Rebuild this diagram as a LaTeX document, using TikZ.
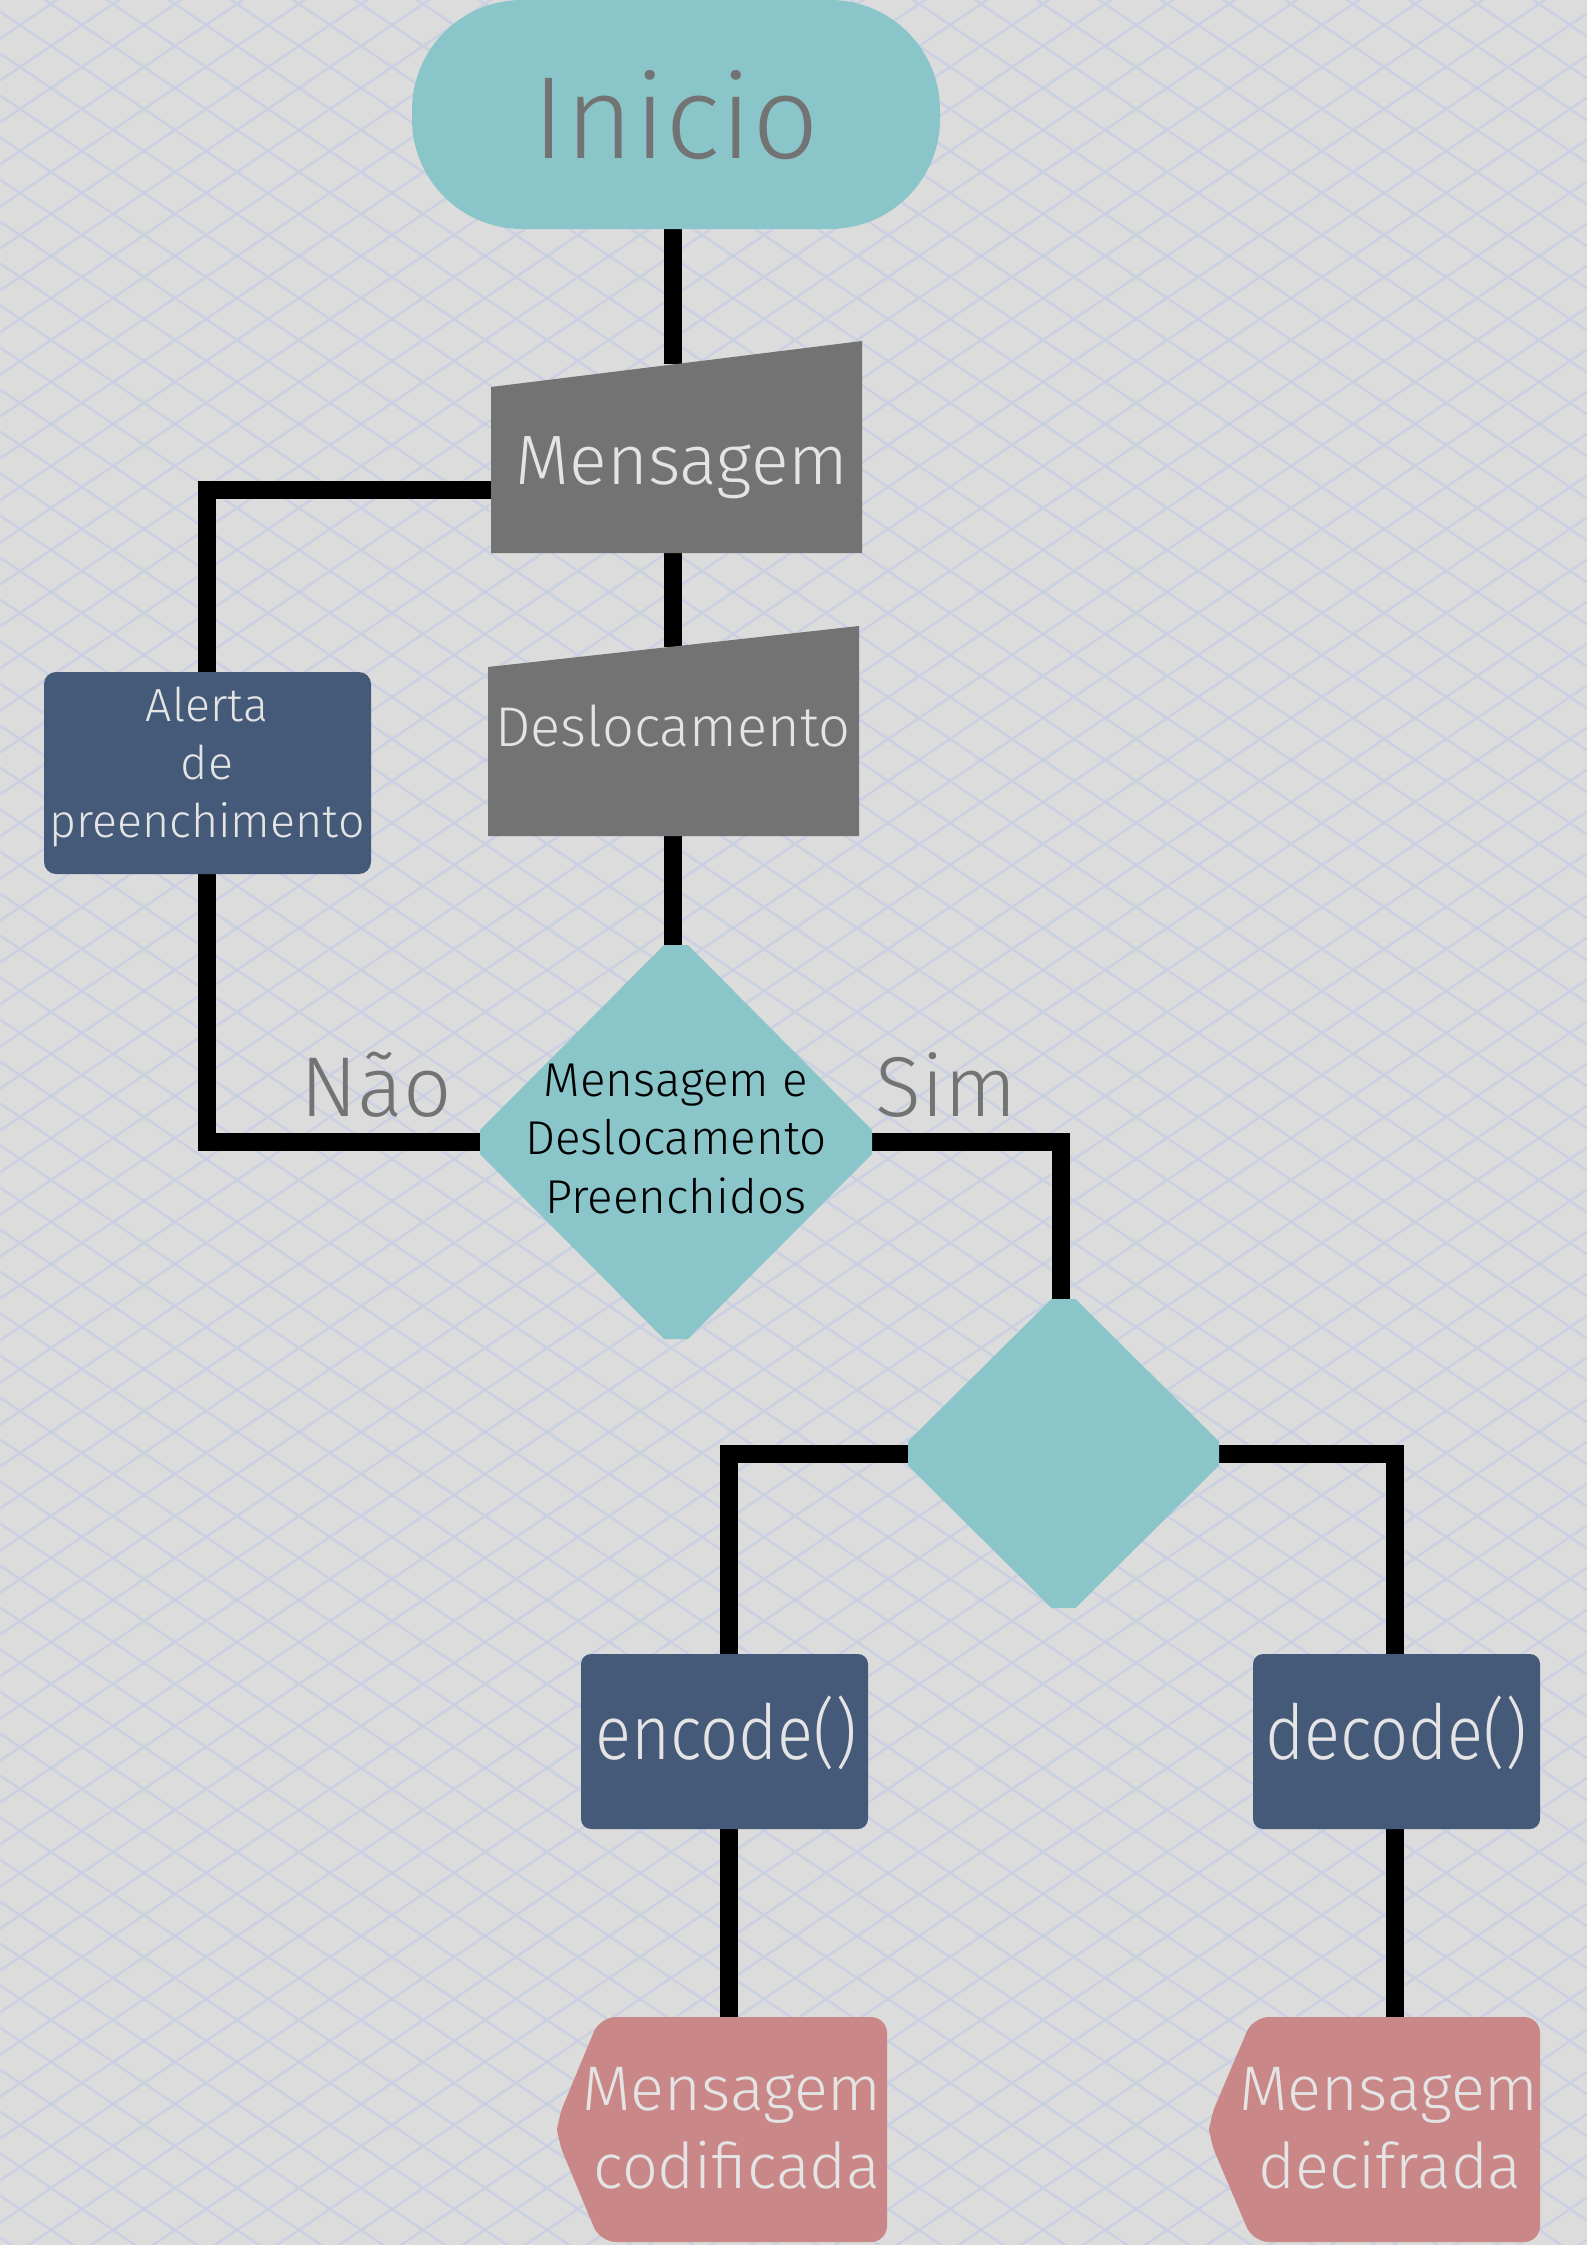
\documentclass[tikz,border=0pt]{standalone}
\usepackage{fontspec}
\setmainfont{Fira Sans Light}
\usetikzlibrary{calc}
\definecolor{bgc}{RGB}{220,220,220}
\definecolor{patc}{RGB}{203,208,226}
\definecolor{tealc}{RGB}{138,198,201}
\definecolor{grayc}{RGB}{115,115,115}
\definecolor{navyc}{RGB}{69,90,121}
\definecolor{pinkc}{RGB}{201,135,135}
\definecolor{lighttxt}{RGB}{228,228,228}
\tikzset{
  pat/.style={patc, line width=2.4pt},
  conn/.style={black, line width=18pt, line join=miter},
  txt/.style={inner sep=0pt, anchor=base},
  box/.style={inner sep=0pt, outer sep=0pt},
  fs/.style={font=\fontsize{#1}{#1}\selectfont}
}
\begin{document}
\begin{tikzpicture}[x=1pt,y=-1pt]
\useasboundingbox (0,0) rectangle (1587,2245);
\fill[bgc] (0,0) rectangle (1587,2245);
\begin{scope}
\clip (0,0) rectangle (1587,2245);
\foreach \a in {-27,...,54} {
  \draw[pat] (0,{11.45+42*\a}) -- (1587,{11.45+42*\a+1075});
}
\foreach \b in {-2,...,80} {
  \draw[pat] (0,{38.55+42*\b}) -- (1587,{38.55+42*\b-1075});
}
\end{scope}

% ---------- named shapes (bounding boxes) ----------
\node[box, minimum width=528pt, minimum height=229pt] (inicio) at (676,114.5) {};
\node[box, minimum width=371pt, minimum height=212pt] (msg) at (676.5,447) {};
\node[box, minimum width=371pt, minimum height=210pt] (des) at (673.5,731) {};
\node[box, minimum width=392pt, minimum height=394pt] (d1) at (676,1142) {};
\node[box, minimum width=327pt, minimum height=202pt] (alerta) at (207.5,773) {};
\node[box, minimum width=311pt, minimum height=309pt] (d2) at (1063.5,1453.5) {};
\node[box, minimum width=287pt, minimum height=175pt] (enc) at (724.5,1741.5) {};
\node[box, minimum width=287pt, minimum height=175pt] (dec) at (1396.5,1741.5) {};
\node[box, minimum width=330pt, minimum height=225pt] (cod) at (722,2129.5) {};
\node[box, minimum width=331pt, minimum height=225pt] (dcf) at (1374.5,2129.5) {};

% ---------- connector end points ----------
\coordinate (c1) at (673,364);
\coordinate (c2a) at (673,553);
\coordinate (c2b) at (673,647);
\coordinate (c3a) at (673,836);
\coordinate (c3b) at (673,946);
\coordinate (c4a) at (492,490);
\coordinate (c4b) at (207,672);
\coordinate (c5a) at (207,874);
\coordinate (c5b) at (481,1142);
\coordinate (c6a) at (871,1142);
\coordinate (c6b) at (1061,1300);
\coordinate (c7a) at (909,1454);
\coordinate (c7b) at (729,1654);
\coordinate (c8a) at (1218,1454);
\coordinate (c8b) at (1395,1654);
\coordinate (c9a) at (729,1829);
\coordinate (c9b) at (729,2017);
\coordinate (c10a) at (1395,1829);
\coordinate (c10b) at (1395,2017);

% ---------- connectors ----------
\draw[conn] (inicio.south -| c1) -- (c1);
\draw[conn] (c2a) -- (c2b);
\draw[conn] (c3a) -- (c3b);
\draw[conn] (c4a) -| (c4b);
\draw[conn] (c5a) |- (c5b);
\draw[conn] (c6a) -| (c6b);
\draw[conn] (c7a) -| (c7b);
\draw[conn] (c8a) -| (c8b);
\draw[conn] (c9a) -- (c9b);
\draw[conn] (c10a) -- (c10b);

% ---------- shapes ----------
\fill[tealc, rounded corners=110pt] (inicio.north west) rectangle (inicio.south east);
\fill[grayc] (msg.south west) -- (msg.south east) -- (msg.north east) -- ($(msg.north west)+(0,46)$) -- cycle;
\fill[grayc] (des.south west) -- (des.south east) -- (des.north east) -- ($(des.north west)+(0,41)$) -- cycle;
\fill[tealc] ($(d1.north)+(-12,0)$) -- ($(d1.north)+(12,0)$) -- ($(d1.east)+(0,-12)$) -- ($(d1.east)+(0,12)$)
  -- ($(d1.south)+(12,0)$) -- ($(d1.south)+(-12,0)$) -- ($(d1.west)+(0,12)$) -- ($(d1.west)+(0,-12)$) -- cycle;
\fill[tealc] ($(d2.north)+(-12,0)$) -- ($(d2.north)+(12,0)$) -- ($(d2.east)+(0,-12)$) -- ($(d2.east)+(0,12)$)
  -- ($(d2.south)+(12,0)$) -- ($(d2.south)+(-12,0)$) -- ($(d2.west)+(0,12)$) -- ($(d2.west)+(0,-12)$) -- cycle;
\fill[navyc, rounded corners=12pt] (alerta.north west) rectangle (alerta.south east);
\fill[navyc, rounded corners=10pt] (enc.north west) rectangle (enc.south east);
\fill[navyc, rounded corners=10pt] (dec.north west) rectangle (dec.south east);
\fill[pinkc, rounded corners=16pt] ($(cod.north west)+(43,0)$) -- (cod.north east) -- (cod.south east)
  -- ($(cod.south west)+(43,0)$) -- ($(cod.west)+(0,9)$) -- ($(cod.west)+(0,-9)$) -- cycle;
\fill[pinkc, rounded corners=16pt] ($(dcf.north west)+(44,0)$) -- (dcf.north east) -- (dcf.south east)
  -- ($(dcf.south west)+(44,0)$) -- ($(dcf.west)+(0,9)$) -- ($(dcf.west)+(0,-9)$) -- cycle;

% ---------- texts ----------
\node[txt, fs=117, text=grayc] (tinicio) at (676,159) {Inicio};
\node[txt, fs=70, text=lighttxt] (tmsg) at (682,484) {Mensagem};
\node[txt, fs=56, text=lighttxt] (tdes) at (673,746) {Deslocamento};
\node[txt, fs=47.5, text=black] (td1a) at (676,1096) {Mensagem e};
\node[txt, fs=47.5, text=black] (td1b) at (676,1154) {Deslocamento};
\node[txt, fs=47.5, text=black] (td1c) at (676,1213) {Preenchidos};
\node[txt, fs=46.5, text=lighttxt] (tal1) at (207,721) {Alerta};
\node[txt, fs=46.5, text=lighttxt] (tal2) at (207,779) {de};
\node[txt, fs=46.5, text=lighttxt] (tal3) at (207,837) {preenchimento};
\node[txt, fs=85, text=grayc] (tnao) at (376,1116) {Não};
\node[txt, fs=85, text=grayc] (tsim) at (946,1116) {Sim};
\node[txt, fs=76, text=lighttxt] (tenc) at (726,1759) {\scalebox{0.88}[1]{encode()}};
\node[txt, fs=76, text=lighttxt] (tdec) at (1396,1759) {\scalebox{0.88}[1]{decode()}};
\node[txt, fs=63, text=lighttxt] (tcod1) at (732,2110) {Mensagem};
\node[txt, fs=63, text=lighttxt] (tcod2) at (737,2188) {codificada};
\node[txt, fs=63, text=lighttxt] (tdcf1) at (1389,2110) {Mensagem};
\node[txt, fs=63, text=lighttxt] (tdcf2) at (1390,2188) {decifrada};
\end{tikzpicture}
\end{document}
